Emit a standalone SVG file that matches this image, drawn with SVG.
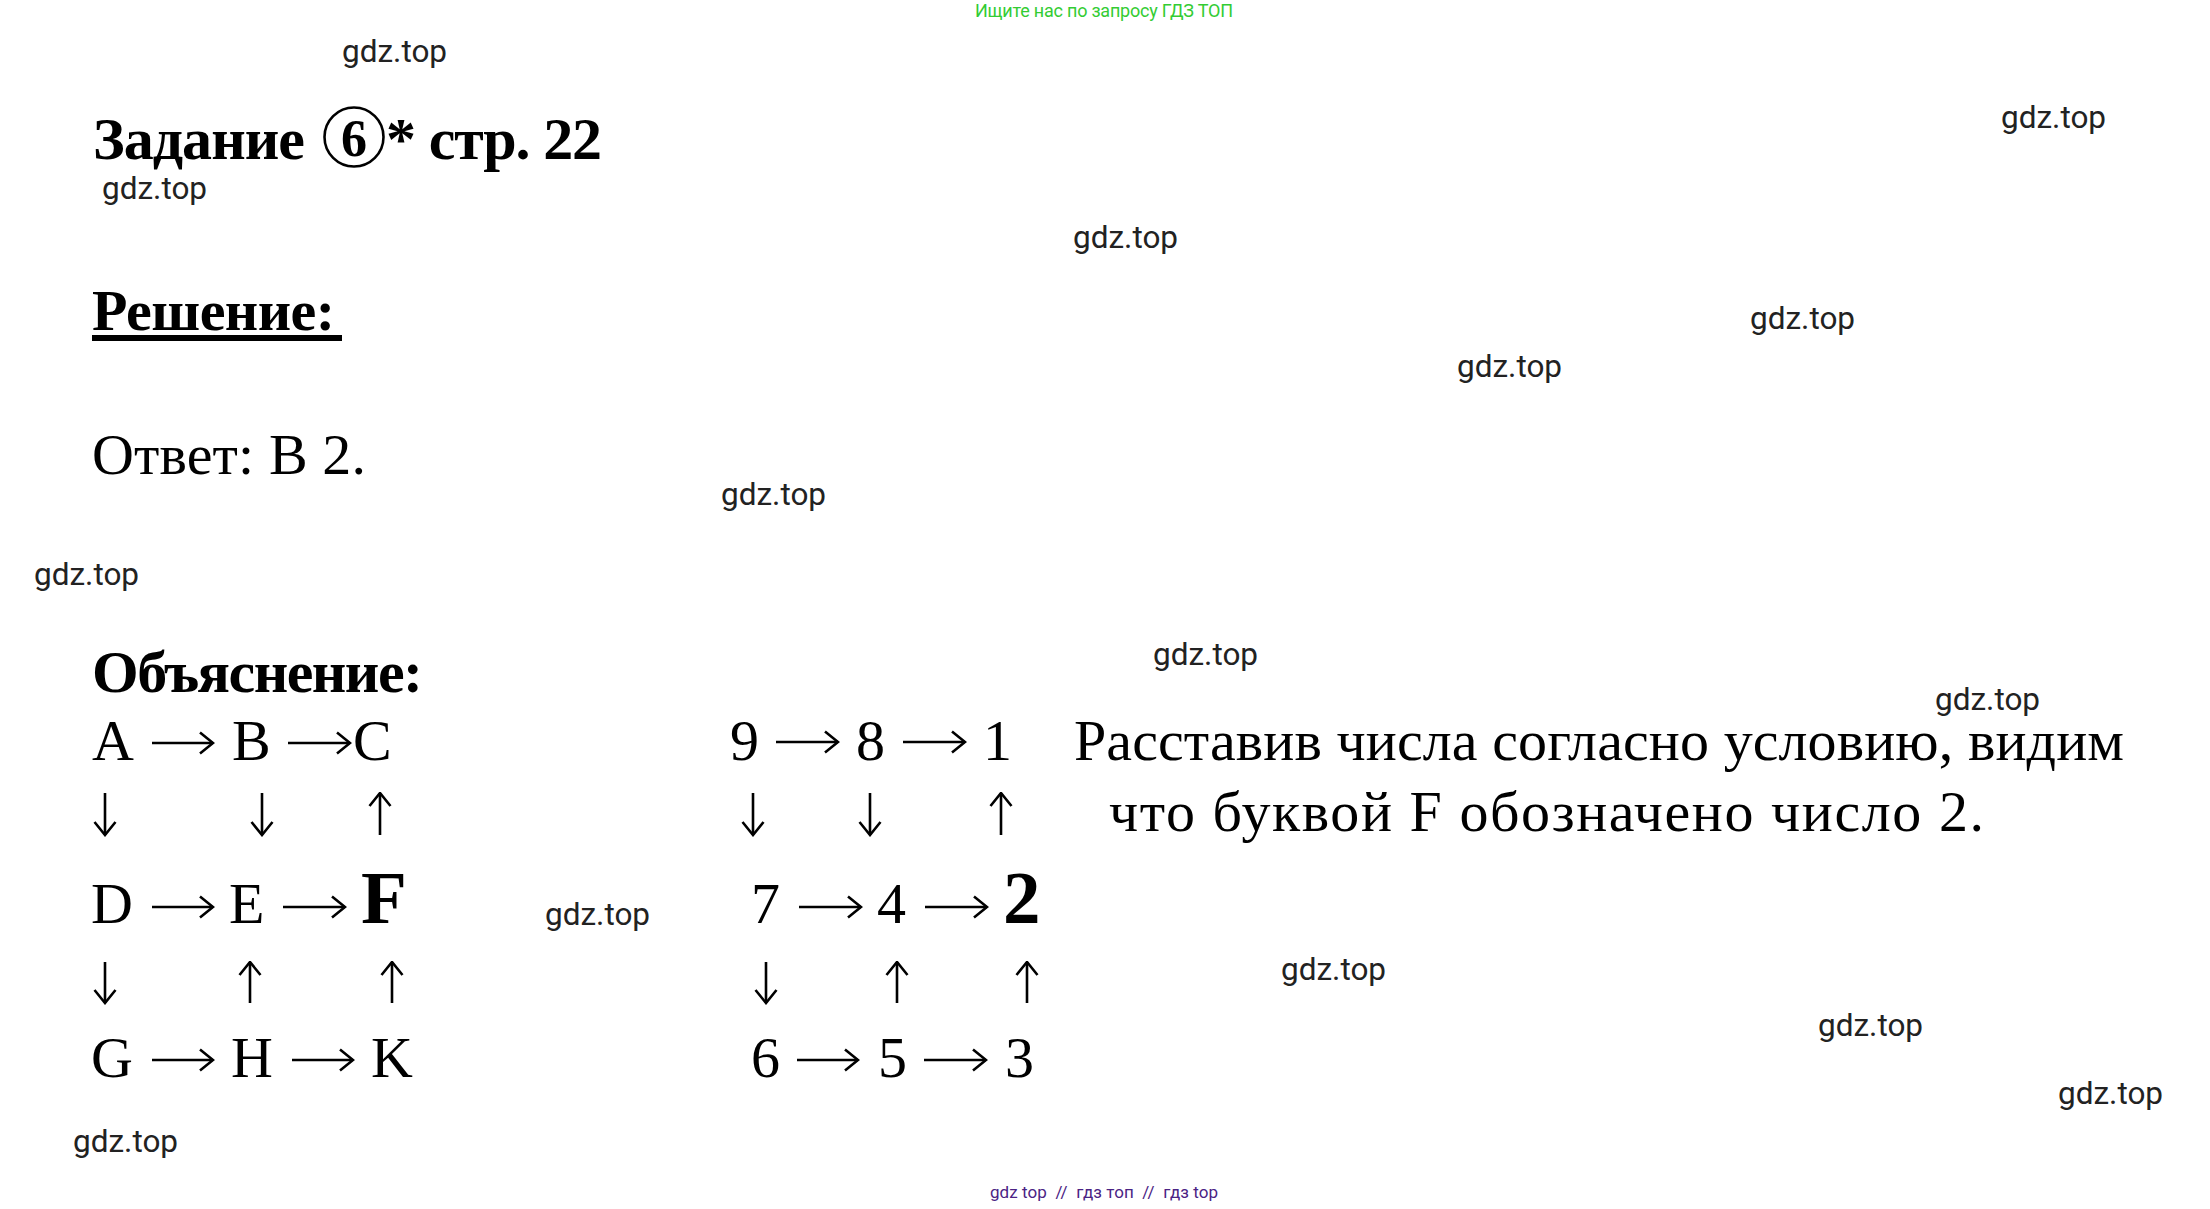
<svg xmlns="http://www.w3.org/2000/svg" width="2210" height="1209" viewBox="0 0 2210 1209">
<style>
.s{font-family:"Liberation Serif","Times New Roman",serif;fill:#000}
.r{font-size:58px}
.b{font-weight:bold}
.big{font-size:75px;font-weight:bold}
.w{font-family:Roboto,"Liberation Sans",sans-serif;font-size:31.5px;fill:#222}
.g{font-family:Roboto,"Liberation Sans",sans-serif;font-size:18px;fill:#33cc33}
.p{font-family:Roboto,"Liberation Sans",sans-serif;font-size:17px;fill:#4b2384;white-space:pre}
.a{stroke:#000;stroke-width:2.6;fill:none;marker-end:url(#ah)}
</style>
<defs>
<marker id="ah" viewBox="0 0 16 24" refX="14.5" refY="12" markerWidth="16" markerHeight="24" orient="auto" markerUnits="userSpaceOnUse">
<path d="M1.5,1.5 L14.5,12 L1.5,22.5" fill="none" stroke="#000" stroke-width="2.6"/>
</marker>
</defs>
<rect width="2210" height="1209" fill="#fff"/>
<text class="g" x="975" y="17" textLength="258">Ищите нас по запросу ГДЗ ТОП</text>
<text class="p" x="990" y="1198" textLength="228" xml:space="preserve">gdz top  //  гдз топ  //  гдз top</text>

<g id="title">
<text class="s b" x="93" y="159" font-size="60" textLength="212">Задание</text>
<circle cx="354" cy="137" r="29.5" fill="none" stroke="#000" stroke-width="2.6"/>
<text class="s b" x="354" y="156" font-size="52" text-anchor="middle">6</text>
<text class="s b" x="386" y="159" font-size="60" textLength="216">* стр. 22</text>
</g>
<g id="solution">
<text class="s b" x="92" y="330" font-size="58" textLength="243">Решение:</text>
<rect x="92" y="335" width="250" height="6" fill="#000"/>
<text class="s r" x="92" y="474" textLength="274">Ответ: В 2.</text>
</g>
<g id="explanation">
<text class="s b" x="92" y="692" font-size="60" textLength="331">Объяснение:</text>
</g>

<g id="nodes-left" class="s r">
<text x="92" y="760">A</text>
<text x="232" y="760">B</text>
<text x="353" y="760">C</text>
<text x="91" y="923">D</text>
<text x="229" y="923">E</text>
<text class="big" x="361" y="923">F</text>
<text x="91" y="1077">G</text>
<text x="231" y="1077">H</text>
<text x="371" y="1077">K</text>
</g>
<g id="nodes-right" class="s r">
<text x="730" y="760">9</text>
<text x="856" y="760">8</text>
<text x="983" y="760">1</text>
<text x="751" y="923">7</text>
<text x="877" y="923">4</text>
<text class="big" x="1003" y="923">2</text>
<text x="751" y="1077">6</text>
<text x="878" y="1077">5</text>
<text x="1005" y="1077">3</text>
</g>
<g id="connectors">
<line class="a" x1="152" y1="743" x2="213" y2="743"/>
<line class="a" x1="288" y1="743" x2="350" y2="743"/>
<line class="a" x1="152" y1="907" x2="213" y2="907"/>
<line class="a" x1="283" y1="907" x2="345" y2="907"/>
<line class="a" x1="152" y1="1060" x2="213" y2="1060"/>
<line class="a" x1="292" y1="1060" x2="353" y2="1060"/>
<line class="a" x1="105" y1="793" x2="105" y2="835"/>
<line class="a" x1="262" y1="793" x2="262" y2="835"/>
<line class="a" x1="380" y1="835" x2="380" y2="793"/>
<line class="a" x1="105" y1="962" x2="105" y2="1003"/>
<line class="a" x1="250" y1="1003" x2="250" y2="962"/>
<line class="a" x1="392" y1="1003" x2="392" y2="962"/>

<line class="a" x1="776" y1="742" x2="838" y2="742"/>
<line class="a" x1="903" y1="742" x2="965" y2="742"/>
<line class="a" x1="799" y1="907" x2="861" y2="907"/>
<line class="a" x1="925" y1="907" x2="987" y2="907"/>
<line class="a" x1="797" y1="1060" x2="858" y2="1060"/>
<line class="a" x1="924" y1="1060" x2="986" y2="1060"/>
<line class="a" x1="753" y1="793" x2="753" y2="835"/>
<line class="a" x1="870" y1="793" x2="870" y2="835"/>
<line class="a" x1="1001" y1="835" x2="1001" y2="793"/>
<line class="a" x1="766" y1="962" x2="766" y2="1003"/>
<line class="a" x1="897" y1="1003" x2="897" y2="962"/>
<line class="a" x1="1027" y1="1003" x2="1027" y2="962"/>
</g>
<g id="note" class="s r">
<text x="1074" y="760" textLength="1050">Расставив числа согласно условию, видим</text>
<text x="1109" y="831" textLength="875">что буквой F обозначено число 2.</text>
</g>

<g id="watermarks">
<text class="w" x="342" y="62">gdz.top</text>
<text class="w" x="2001" y="128">gdz.top</text>
<text class="w" x="102" y="199">gdz.top</text>
<text class="w" x="1073" y="248">gdz.top</text>
<text class="w" x="1750" y="329">gdz.top</text>
<text class="w" x="1457" y="377">gdz.top</text>
<text class="w" x="721" y="505">gdz.top</text>
<text class="w" x="34" y="585">gdz.top</text>
<text class="w" x="1153" y="665">gdz.top</text>
<text class="w" x="1935" y="710">gdz.top</text>
<text class="w" x="545" y="925">gdz.top</text>
<text class="w" x="1281" y="980">gdz.top</text>
<text class="w" x="1818" y="1036">gdz.top</text>
<text class="w" x="2058" y="1104">gdz.top</text>
<text class="w" x="73" y="1152">gdz.top</text>
</g>
</svg>
